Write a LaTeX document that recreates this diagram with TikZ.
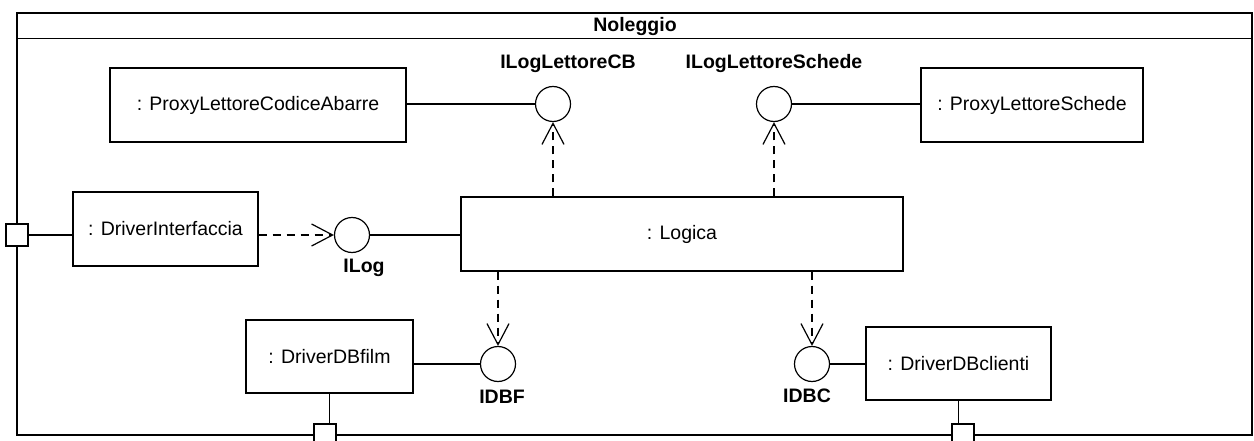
\documentclass[tikz,border=0pt]{standalone}
\usepackage{fontspec}
\setmainfont{Liberation Sans}
\usetikzlibrary{arrows.meta}
\tikzset{
  uml/.style={line width=1.2pt, draw=black},
  part/.style={uml, rectangle, inner sep=0pt, font=\fontsize{19.5}{23}\selectfont},
  port/.style={uml, rectangle, fill=white, minimum size=22, inner sep=0pt},
  iface/.style={uml, circle, fill=white, minimum size=35, inner sep=0pt},
  ilabel/.style={inner sep=0pt, font=\fontsize{19.5}{23}\selectfont\bfseries},
  link/.style={uml},
  dep/.style={uml, dash pattern=on 8pt off 6pt, -{Straight Barb[length=21pt, width=22pt]}},
}
\begin{document}
\begin{tikzpicture}[x=1pt, y=-1pt]
\useasboundingbox (0,0) rectangle (1254,441);

% enclosing component
\node[uml, rectangle, minimum width=1235, minimum height=422, inner sep=0pt] (frame) at (634.5,224) {};
\draw[uml] (frame.north west) ++(0,26) coordinate (sepL) -- (sepL -| frame.east);
\node[ilabel] (title) at (635,26.5) {Noleggio};

% parts
\node[part, minimum width=296, minimum height=74] (pcb) at (258,105) {: ProxyLettoreCodiceAbarre};
\node[part, minimum width=222, minimum height=74] (pls) at (1032,105) {: ProxyLettoreSchede};
\node[part, minimum width=185, minimum height=74] (drvi) at (165.5,229) {: DriverInterfaccia};
\node[part, minimum width=442, minimum height=74] (logica) at (682,234) {: Logica};
\node[part, minimum width=167, minimum height=73] (dbf) at (329.5,356.5) {: DriverDBfilm};
\node[part, minimum width=185, minimum height=73] (dbc) at (958.5,363.5) {: DriverDBclienti};

% provided interfaces
\node[iface] (icb) at (553,104) {};
\node[ilabel] at (568,64) {ILogLettoreCB};
\node[iface] (ils) at (774,104) {};
\node[ilabel] at (774,64) {ILogLettoreSchede};
\node[iface] (ilog) at (352,235) {};
\node[ilabel] at (364,268) {ILog};
\node[iface] (idbf) at (498,364) {};
\node[ilabel] at (502,397) {IDBF};
\node[iface] (idbc) at (812,364) {};
\node[ilabel] at (807,396) {IDBC};

% ports on the boundary
\node[port] (pl) at (17,235) {};
\node[port] (pf) at (325,435) {};
\node[port] (pc) at (963,435) {};

% assembly links
\draw[link] (pcb.east |- icb) -- (icb.west);
\draw[link] (ils.east) -- (ils -| pls.west);
\draw[link] (pl.east) -- (pl.east -| drvi.west);
\draw[link] (ilog.east) -- (ilog -| logica.west);
\draw[link] (dbf.east |- idbf) -- (idbf.west);
\draw[link] (idbc.east) -- (idbc -| dbc.west);
\draw[link] (dbf.south) -- (dbf.south |- pf.north);
\draw[link] (dbc.south) -- (dbc.south |- pc.north);

% usage dependencies
\draw[dep] (drvi.east |- ilog) -- (ilog.west);
\draw[dep] (icb |- logica.north) -- (icb.south);
\draw[dep] (ils |- logica.north) -- (ils.south);
\draw[dep] (idbf |- logica.south) -- (idbf.north);
\draw[dep] (idbc |- logica.south) -- (idbc.north);
\end{tikzpicture}
\end{document}
